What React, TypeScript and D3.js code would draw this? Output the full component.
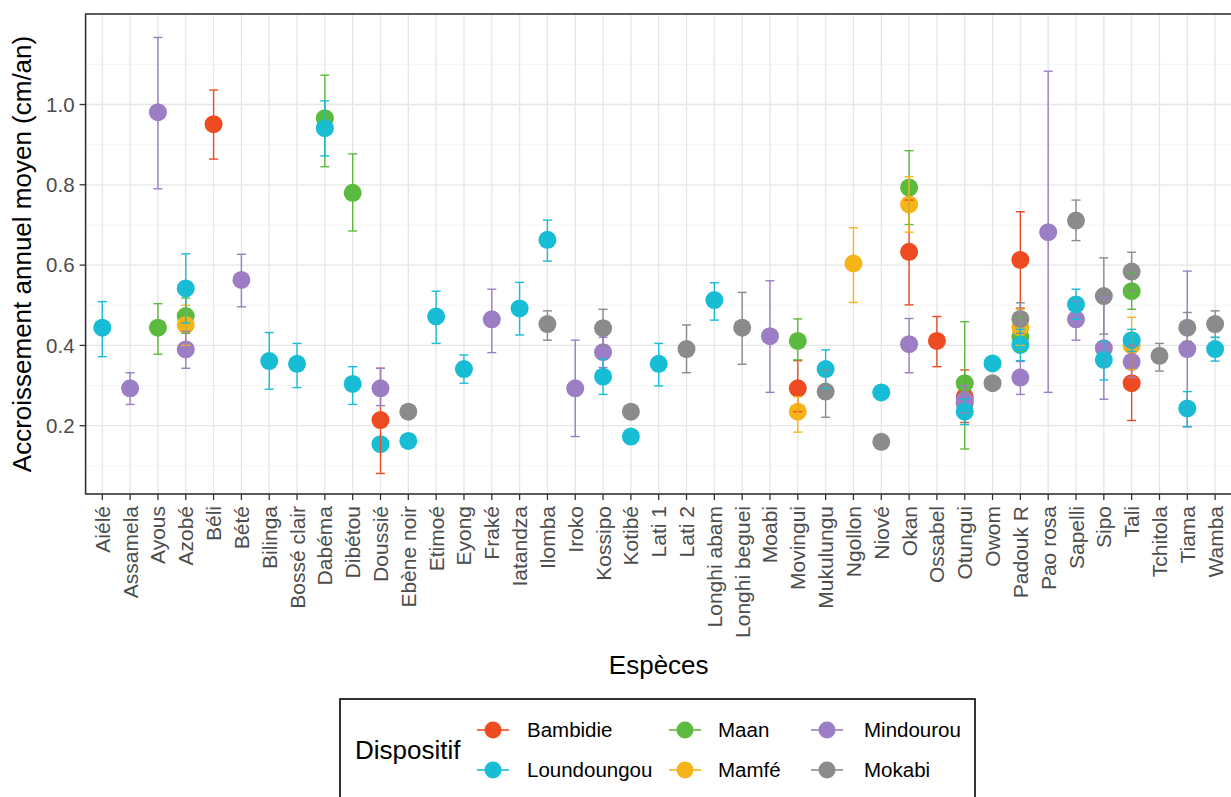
import * as d3 from 'd3'

// species on the x axis
const SPECIES = [
  'Aiélé', 'Assamela', 'Ayous', 'Azobé', 'Béli', 'Bété', 'Bilinga', 'Bossé clair',
  'Dabéma', 'Dibétou', 'Doussié', 'Ebène noir', 'Etimoé', 'Eyong', 'Fraké', 'Iatandza',
  'Ilomba', 'Iroko', 'Kossipo', 'Kotibé', 'Lati 1', 'Lati 2', 'Longhi abam', 'Longhi beguei',
  'Moabi', 'Movingui', 'Mukulungu', 'Ngollon', 'Niové', 'Okan', 'Ossabel', 'Otungui',
  'Owom', 'Padouk R', 'Pao rosa', 'Sapelli', 'Sipo', 'Tali', 'Tchitola', 'Tiama', 'Wamba',
]

const DISPOSITIFS = ['Bambidie', 'Loundoungou', 'Maan', 'Mamfé', 'Mindourou', 'Mokabi']
const COLORS = ['#EE4B22', '#17BCD5', '#5CBA3E', '#F7B418', '#9B7EC3', '#8B8B8B']

type Row = [string, number, number | null, number | null] // species, mean, low, high

const bambidie: Row[] = [
  ['Béli', 0.951, 0.864, 1.036],
  ['Doussié', 0.214, 0.081, 0.343],
  ['Movingui', 0.293, 0.235, 0.362],
  ['Okan', 0.633, 0.501, 0.762],
  ['Ossabel', 0.411, 0.347, 0.472],
  ['Otungui', 0.272, 0.208, 0.339],
  ['Padouk R', 0.613, 0.493, 0.733],
  ['Tali', 0.306, 0.213, 0.4],
]

const loundoungou: Row[] = [
  ['Aiélé', 0.444, 0.372, 0.509],
  ['Azobé', 0.542, 0.456, 0.628],
  ['Bilinga', 0.361, 0.291, 0.432],
  ['Bossé clair', 0.354, 0.295, 0.405],
  ['Dabéma', 0.941, 0.872, 1.009],
  ['Dibétou', 0.304, 0.253, 0.347],
  ['Doussié', 0.154, null, null],
  ['Ebène noir', 0.162, null, null],
  ['Etimoé', 0.472, 0.405, 0.535],
  ['Eyong', 0.341, 0.306, 0.376],
  ['Iatandza', 0.492, 0.426, 0.557],
  ['Ilomba', 0.663, 0.61, 0.712],
  ['Kossipo', 0.322, 0.278, 0.366],
  ['Kotibé', 0.173, null, null],
  ['Lati 1', 0.354, 0.299, 0.405],
  ['Longhi abam', 0.513, 0.463, 0.556],
  ['Mukulungu', 0.341, 0.293, 0.389],
  ['Niové', 0.283, null, null],
  ['Otungui', 0.235, 0.203, 0.267],
  ['Owom', 0.355, null, null],
  ['Padouk R', 0.401, 0.362, 0.44],
  ['Sapelli', 0.502, 0.465, 0.54],
  ['Sipo', 0.364, 0.314, 0.41],
  ['Tali', 0.413, 0.385, 0.44],
  ['Tiama', 0.243, 0.198, 0.285],
  ['Wamba', 0.391, 0.361, 0.42],
]

const maan: Row[] = [
  ['Ayous', 0.444, 0.378, 0.504],
  ['Azobé', 0.473, 0.43, 0.518],
  ['Dabéma', 0.966, 0.845, 1.073],
  ['Dibétou', 0.78, 0.685, 0.877],
  ['Movingui', 0.411, 0.364, 0.466],
  ['Okan', 0.793, 0.701, 0.885],
  ['Otungui', 0.306, 0.142, 0.459],
  ['Padouk R', 0.422, 0.385, 0.47],
  ['Tali', 0.535, 0.49, 0.58],
]

const mamfe: Row[] = [
  ['Azobé', 0.451, 0.4, 0.5],
  ['Movingui', 0.235, 0.184, 0.272],
  ['Ngollon', 0.604, 0.507, 0.693],
  ['Okan', 0.751, 0.682, 0.82],
  ['Padouk R', 0.445, 0.4, 0.49],
  ['Tali', 0.4, 0.34, 0.47],
]

const mindourou: Row[] = [
  ['Assamela', 0.293, 0.253, 0.332],
  ['Ayous', 0.981, 0.79, 1.167],
  ['Azobé', 0.39, 0.343, 0.435],
  ['Bété', 0.563, 0.496, 0.627],
  ['Doussié', 0.293, 0.25, 0.343],
  ['Fraké', 0.465, 0.382, 0.54],
  ['Iroko', 0.293, 0.173, 0.413],
  ['Kossipo', 0.383, 0.345, 0.42],
  ['Moabi', 0.423, 0.283, 0.561],
  ['Okan', 0.403, 0.332, 0.467],
  ['Otungui', 0.264, 0.232, 0.3],
  ['Padouk R', 0.32, 0.278, 0.36],
  ['Pao rosa', 0.682, 0.283, 1.083],
  ['Sapelli', 0.465, 0.413, 0.51],
  ['Sipo', 0.393, 0.266, 0.52],
  ['Tali', 0.359, 0.32, 0.4],
  ['Tiama', 0.391, 0.197, 0.585],
]

const mokabi: Row[] = [
  ['Ebène noir', 0.235, null, null],
  ['Ilomba', 0.453, 0.413, 0.486],
  ['Kossipo', 0.443, 0.4, 0.49],
  ['Kotibé', 0.235, null, null],
  ['Lati 2', 0.391, 0.332, 0.451],
  ['Longhi beguei', 0.444, 0.353, 0.532],
  ['Mukulungu', 0.285, 0.221, 0.339],
  ['Niové', 0.16, null, null],
  ['Otungui', 0.256, 0.232, 0.28],
  ['Owom', 0.306, null, null],
  ['Padouk R', 0.466, 0.43, 0.506],
  ['Sapelli', 0.711, 0.661, 0.762],
  ['Sipo', 0.523, 0.428, 0.618],
  ['Tali', 0.584, 0.536, 0.632],
  ['Tchitola', 0.374, 0.336, 0.405],
  ['Tiama', 0.444, 0.41, 0.482],
  ['Wamba', 0.453, 0.42, 0.486],
]

const SERIES: Record<string, Row[]> = {
  Bambidie: bambidie,
  Loundoungou: loundoungou,
  Maan: maan,
  'Mamfé': mamfe,
  Mindourou: mindourou,
  Mokabi: mokabi,
}

// order in which the groups are painted (later ones sit on top)
const DRAW_ORDER = ['Bambidie', 'Maan', 'Mamfé', 'Mokabi', 'Mindourou', 'Loundoungou']

const Y_TICKS = [0.2, 0.4, 0.6, 0.8, 1.0]
const Y_MINOR = [0.1, 0.3, 0.5, 0.7, 0.9, 1.1]

const X_TITLE = 'Espèces'
const Y_TITLE = 'Accroissement annuel moyen (cm/an)'
const LEGEND_TITLE = 'Dispositif'

const W = 1231
const H = 797
const panel = { left: 85.6, right: 1231.8, top: 14, bottom: 494 }
const FONT = '"Liberation Sans", Arial, sans-serif'

export default function App() {
  const x = d3.scalePoint<string>()
    .domain(SPECIES)
    .range([panel.left, panel.right])
    .padding(0.6)

  const y = d3.scaleLinear()
    .domain([0.0299, 1.2254])
    .range([panel.bottom, panel.top])

  const color = d3.scaleOrdinal<string, string>().domain(DISPOSITIFS).range(COLORS)

  const capHalf = 4.5
  const pointR = 9

  // legend layout: two rows, filled column by column
  const legendKeys = [493, 685, 827]
  const legendText = [527, 718, 864]
  const legendRows = [730, 770]

  return (
    <svg width={W} height={H} style={{ position: 'absolute', left: 0, top: 0, background: '#fff' }} fontFamily={FONT}>
      <rect x={0} y={0} width={W} height={H} fill="#fff" />

      {/* grid */}
      <g>
        {Y_MINOR.map(v => (
          <line key={'mn' + v} x1={panel.left} x2={panel.right} y1={y(v)} y2={y(v)} stroke="#F2F2F2" strokeWidth={0.8} />
        ))}
        {Y_TICKS.map(v => (
          <line key={'mj' + v} x1={panel.left} x2={panel.right} y1={y(v)} y2={y(v)} stroke="#E6E6E6" strokeWidth={1.3} />
        ))}
        {SPECIES.map(s => (
          <line key={'gx' + s} x1={x(s)} x2={x(s)} y1={panel.top} y2={panel.bottom} stroke="#E6E6E6" strokeWidth={1.3} />
        ))}
      </g>

      {/* points */}
      {DRAW_ORDER.map(name => (
        <g key={'p' + name} fill={color(name)}>
          {SERIES[name].map(([sp, m]) => (
            <circle key={sp} cx={x(sp)} cy={y(m)} r={pointR} />
          ))}
        </g>
      ))}

      {/* error bars */}
      {DRAW_ORDER.map(name => (
        <g key={'e' + name} stroke={color(name)} strokeWidth={1.4} fill="none">
          {SERIES[name].filter(r => r[2] != null && r[3] != null).map(([sp, , lo, hi]) => {
            const cx = x(sp) as number
            return (
              <g key={sp}>
                <line x1={cx} x2={cx} y1={y(lo as number)} y2={y(hi as number)} />
                <line x1={cx - capHalf} x2={cx + capHalf} y1={y(hi as number)} y2={y(hi as number)} />
                <line x1={cx - capHalf} x2={cx + capHalf} y1={y(lo as number)} y2={y(lo as number)} />
              </g>
            )
          })}
        </g>
      ))}

      {/* panel border */}
      <rect x={panel.left} y={panel.top} width={panel.right - panel.left} height={panel.bottom - panel.top}
        fill="none" stroke="#333" strokeWidth={1.6} />

      {/* y axis */}
      <g>
        {Y_TICKS.map(v => (
          <g key={'yt' + v}>
            <line x1={panel.left - 6} x2={panel.left} y1={y(v)} y2={y(v)} stroke="#333" strokeWidth={1.3} />
            <text x={panel.left - 11} y={y(v)} dy="0.36em" textAnchor="end" fontSize={20.5} fill="#4D4D4D">
              {d3.format('.1f')(v)}
            </text>
          </g>
        ))}
      </g>

      {/* x axis */}
      <g>
        {SPECIES.map(s => {
          const px = x(s) as number
          return (
            <g key={'xt' + s}>
              <line x1={px} x2={px} y1={panel.bottom} y2={panel.bottom + 6} stroke="#333" strokeWidth={1.3} />
              <text transform={`translate(${px + 7.5},${panel.bottom + 12}) rotate(-90)`} textAnchor="end"
                fontSize={21} fill="#4D4D4D">{s}</text>
            </g>
          )
        })}
      </g>

      {/* axis titles */}
      <text x={(panel.left + panel.right) / 2} y={674} textAnchor="middle" fontSize={26} fill="#000">{X_TITLE}</text>
      <text transform={`translate(31,${(panel.top + panel.bottom) / 2}) rotate(-90)`} textAnchor="middle"
        fontSize={26} fill="#000">{Y_TITLE}</text>

      {/* legend */}
      <rect x={340} y={699} width={635} height={120} fill="#fff" stroke="#000" strokeWidth={1.6} />
      <text x={355} y={750} dy="0.36em" fontSize={26} fill="#000">{LEGEND_TITLE}</text>
      {DISPOSITIFS.map((name, i) => {
        const col = Math.floor(i / 2)
        const row = i % 2
        const kx = legendKeys[col]
        const ky = legendRows[row]
        return (
          <g key={'lg' + name}>
            <line x1={kx - 16} x2={kx + 16} y1={ky} y2={ky} stroke={color(name)} strokeWidth={1.6} />
            <circle cx={kx} cy={ky} r={8.5} fill={color(name)} />
            <text x={legendText[col]} y={ky} dy="0.36em" fontSize={20.5} fill="#000">{name}</text>
          </g>
        )
      })}
    </svg>
  )
}
